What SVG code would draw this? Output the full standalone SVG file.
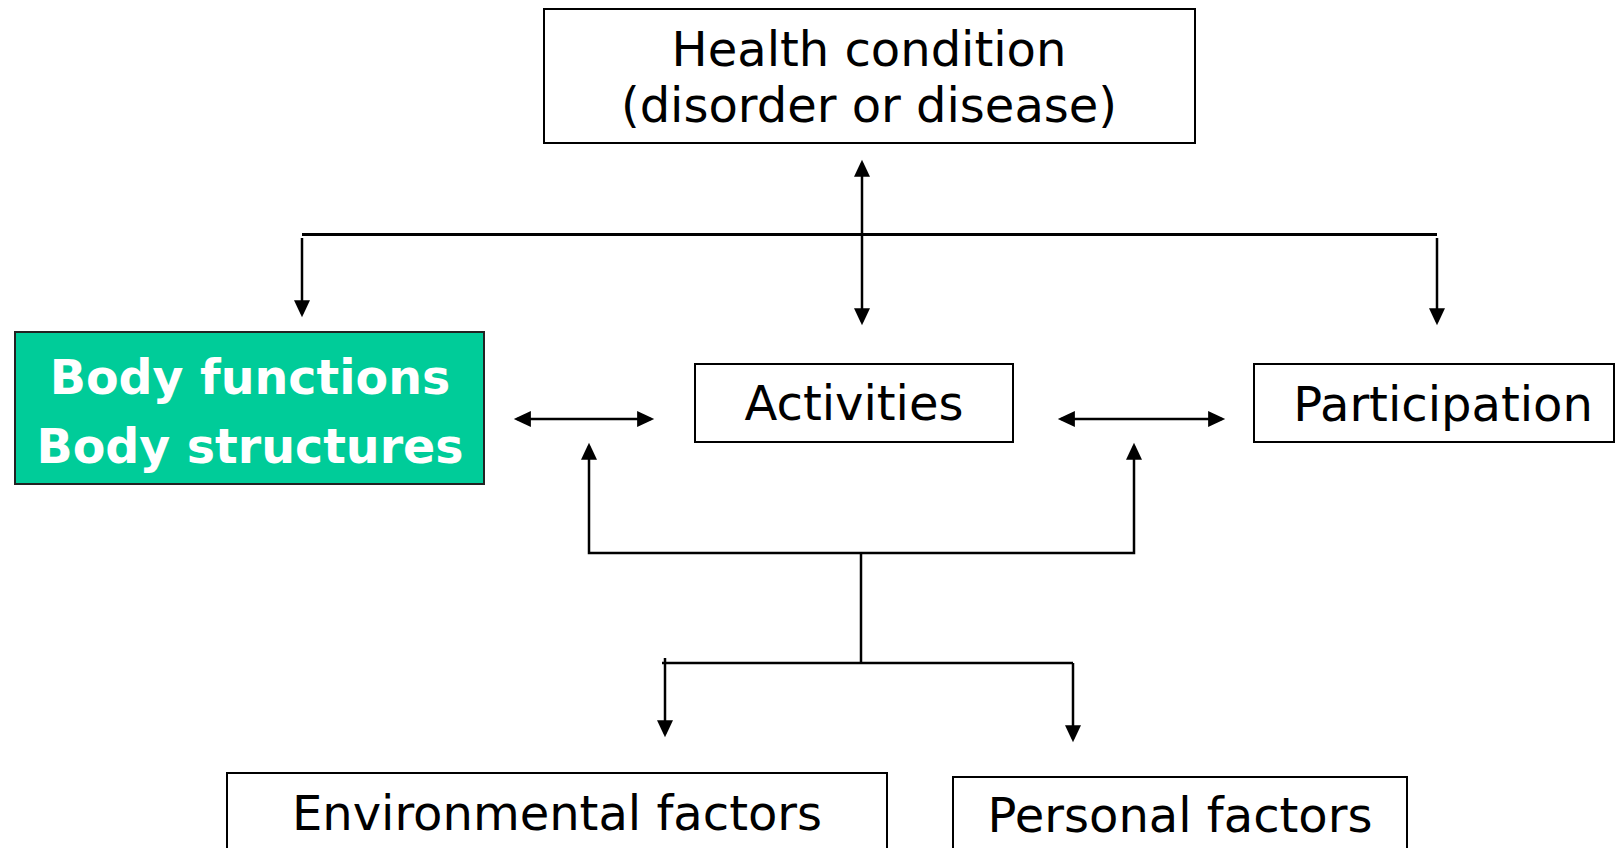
<svg xmlns="http://www.w3.org/2000/svg" width="1615" height="848" viewBox="0 0 1615 848">
<style>
.box{fill:#fff;stroke:#000;stroke-width:2}
.green{fill:#00CC99;stroke:#222;stroke-width:2}
.t{font-family:"DejaVu Sans","Liberation Sans",sans-serif;font-size:48px;fill:#000;text-anchor:middle}
.tb{font-family:"DejaVu Sans","Liberation Sans",sans-serif;font-size:47.5px;font-weight:bold;fill:#fff;text-anchor:middle}
.ln{fill:none;stroke:#000;stroke-width:2.5}
.thick{stroke-width:3.2}
</style>
<defs>
<marker id="ah" markerUnits="userSpaceOnUse" markerWidth="18" markerHeight="16" refX="13" refY="7.5" orient="auto-start-reverse" viewBox="0 0 16 15">
<path d="M0,0 L16,7.5 L0,15 z" fill="#000"/>
</marker>
</defs>
<rect width="1615" height="848" fill="#fff"/>
<g id="health">
<rect class="box" x="544" y="9" width="651" height="134"/>
<text class="t" x="869" y="66">Health condition</text>
<text class="t" x="869" y="122">(disorder or disease)</text>
</g>
<g id="body">
<rect class="green" x="15" y="332" width="469" height="152"/>
<text class="tb" x="250" y="394">Body functions</text>
<text class="tb" x="250" y="463">Body structures</text>
</g>
<g id="activities">
<rect class="box" x="695" y="364" width="318" height="78"/>
<text class="t" x="854" y="420">Activities</text>
</g>
<g id="participation">
<rect class="box" x="1254" y="364" width="360" height="78"/>
<text class="t" x="1443" y="421">Participation</text>
</g>
<g id="environmental">
<rect class="box" x="227" y="773" width="660" height="90"/>
<text class="t" x="557" y="830">Environmental factors</text>
</g>
<g id="personal">
<rect class="box" x="953" y="777" width="454" height="90"/>
<text class="t" x="1180" y="832">Personal factors</text>
</g>
<g id="connectors">
<line class="ln thick" x1="302" y1="234.5" x2="1437" y2="234.5"/>
<line class="ln" x1="302" y1="238" x2="302" y2="314" marker-end="url(#ah)"/>
<line class="ln" x1="1437" y1="238" x2="1437" y2="322" marker-end="url(#ah)"/>
<line class="ln" x1="862" y1="163" x2="862" y2="322" marker-start="url(#ah)" marker-end="url(#ah)"/>
<line class="ln" x1="517" y1="419" x2="651" y2="419" marker-start="url(#ah)" marker-end="url(#ah)"/>
<line class="ln" x1="1061" y1="419" x2="1222" y2="419" marker-start="url(#ah)" marker-end="url(#ah)"/>
<path class="ln" d="M589,446 L589,553 L1134,553 L1134,446" marker-start="url(#ah)" marker-end="url(#ah)"/>
<line class="ln" x1="861" y1="553" x2="861" y2="663"/>
<line class="ln" x1="662" y1="663" x2="1073" y2="663"/>
<line class="ln" x1="665" y1="658" x2="665" y2="734" marker-end="url(#ah)"/>
<line class="ln" x1="1073" y1="663" x2="1073" y2="739" marker-end="url(#ah)"/>
</g>
</svg>
